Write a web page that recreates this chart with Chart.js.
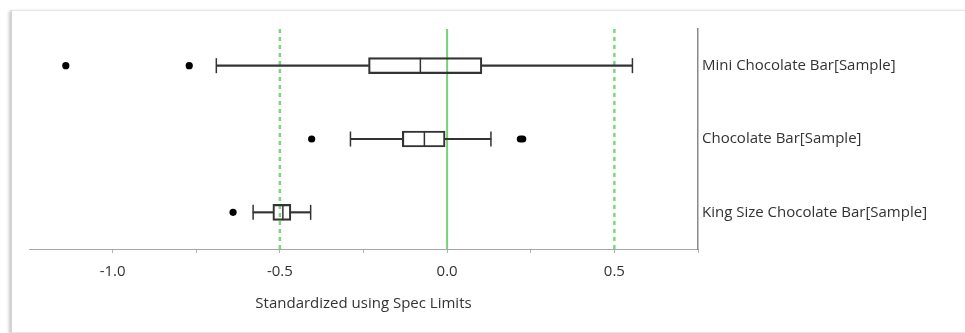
<!DOCTYPE html>
<html>
<head>
<meta charset="utf-8">
<script src="https://cdn.jsdelivr.net/npm/chart.js@4.4.0/dist/chart.umd.min.js"></script>
<style>
html, body { margin: 0; padding: 0; background: #fff; }
#panel { position: absolute; left: 11px; top: 10px; width: 980px; height: 321px; border-top: 1px solid #e6e6e6; border-left: 1px solid #d4d4d4; border-bottom: 1px solid #e6e6e6; box-shadow: -2px 1px 3px rgba(0,0,0,0.22); background: #fff; }
#wrap { position: absolute; left: 0; top: 0; width: 965px; height: 333px; }
</style>
</head>
<body>
<div id="panel"></div>
<div id="wrap"><canvas id="box_chart"></canvas></div>
<script>
var categories = ["Mini Chocolate Bar[Sample]", "Chocolate Bar[Sample]", "King Size Chocolate Bar[Sample]"];
var whiskerLow = [-0.690, -0.289, -0.580];
var q1 = [-0.235, -0.134, -0.521];
var median = [-0.080, -0.068, -0.491];
var q3 = [0.104, -0.006, -0.467];
var whiskerHigh = [0.554, 0.131, -0.408];
var outliers = [[-1.140, -0.771], [-0.405, 0.219, 0.226], [-0.640]];
var specLimits = [-0.5, 0.5];
var target = [0.0];
var axisMin = -1.25, axisMax = 0.75, tickStep = 0.25;

var dark = '#333333';

function pairs(a, b) {
    return categories.map(function (c, i) { return [a[i], b[i]]; });
}

function points(vals) {
    var out = [];
    categories.forEach(function (c, i) {
        var v = vals[i];
        (Array.isArray(v) ? v : [v]).forEach(function (x) { out.push({ x: x, y: c }); });
    });
    return out;
}

var refLines = {
    id: 'refLines',
    beforeDatasetsDraw: function (chart) {
        var ctx = chart.ctx, xs = chart.scales.x, area = chart.chartArea;
        ctx.save();
        ctx.strokeStyle = '#7bd97b';
        ctx.lineWidth = 2.5;
        ctx.setLineDash([4, 4]);
        specLimits.forEach(function (v) {
            var px = xs.getPixelForValue(v);
            ctx.beginPath();
            ctx.moveTo(px, area.top);
            ctx.lineTo(px, area.bottom);
            ctx.stroke();
        });
        ctx.setLineDash([]);
        ctx.strokeStyle = '#74d374';
        ctx.lineWidth = 2;
        target.forEach(function (v) {
            var px = xs.getPixelForValue(v);
            ctx.beginPath();
            ctx.moveTo(px, area.top);
            ctx.lineTo(px, area.bottom);
            ctx.stroke();
        });
        ctx.restore();
    }
};

new Chart(document.getElementById('box_chart').getContext('2d'), {
    type: 'bar',
    data: {
        labels: categories,
        datasets: [{
            label: 'outliers',
            type: 'scatter',
            data: points(outliers),
            pointStyle: 'circle',
            pointRadius: 3.6,
            backgroundColor: '#000',
            borderWidth: 0
        }, {
            label: 'median',
            type: 'scatter',
            data: points(median),
            pointStyle: 'line',
            rotation: 90,
            pointRadius: 8,
            borderColor: dark,
            borderWidth: 1.5
        }, {
            label: 'caps',
            type: 'scatter',
            data: points(whiskerLow).concat(points(whiskerHigh)),
            pointStyle: 'line',
            rotation: 90,
            pointRadius: 7.5,
            borderColor: dark,
            borderWidth: 1.5
        }, {
            label: 'box',
            data: pairs(q1, q3),
            backgroundColor: 'rgba(255,255,255,0)',
            borderColor: dark,
            borderWidth: 1.5,
            borderSkipped: false,
            barThickness: 16,
            grouped: false
        }, {
            label: 'lower whisker',
            data: pairs(whiskerLow, q1),
            backgroundColor: dark,
            borderWidth: 0,
            barThickness: 1.5,
            grouped: false
        }, {
            label: 'upper whisker',
            data: pairs(q3, whiskerHigh),
            backgroundColor: dark,
            borderWidth: 0,
            barThickness: 1.5,
            grouped: false
        }]
    },
    options: {
        indexAxis: 'y',
        responsive: true,
        maintainAspectRatio: false,
        animation: false,
        layout: { padding: { left: 29, top: 29, right: 5, bottom: 0 } },
        plugins: {
            legend: { display: false },
            tooltip: { enabled: false }
        },
        scales: {
            x: {
                type: 'linear',
                position: 'bottom',
                min: axisMin,
                max: axisMax,
                border: { display: true, color: '#a6a6a6', width: 1 },
                grid: { drawOnChartArea: false, drawTicks: true, tickLength: 4, color: '#b4b4b4' },
                ticks: {
                    stepSize: tickStep,
                    autoSkip: false,
                    maxRotation: 0,
                    padding: 10,
                    color: '#333',
                    font: { family: 'Open Sans', size: 15 },
                    callback: function (v) {
                        if (Math.abs(v - axisMin) < 1e-9) return null;
                        var r = Math.round(v * 2) / 2;
                        if (Math.abs(r - v) > 1e-9) return '';
                        return Math.abs(v) < 1e-9 ? '0.0' : v.toFixed(1);
                    }
                },
                title: {
                    display: true,
                    text: 'Standardized using Spec Limits',
                    color: '#333',
                    font: { family: 'Open Sans', size: 15 },
                    padding: { top: 4, bottom: 20 }
                },
                afterFit: function (s) { s.height = 84; }
            },
            y: {
                type: 'category',
                position: 'right',
                offset: true,
                border: { display: true, color: '#8a8a8a', width: 1.5 },
                grid: { display: false, drawTicks: false },
                ticks: {
                    padding: 4,
                    color: '#333',
                    font: { family: 'Open Sans', size: 15 }
                },
                afterFit: function (s) { s.width = 262; }
            }
        }
    },
    plugins: [refLines]
});
</script>
</body>
</html>
